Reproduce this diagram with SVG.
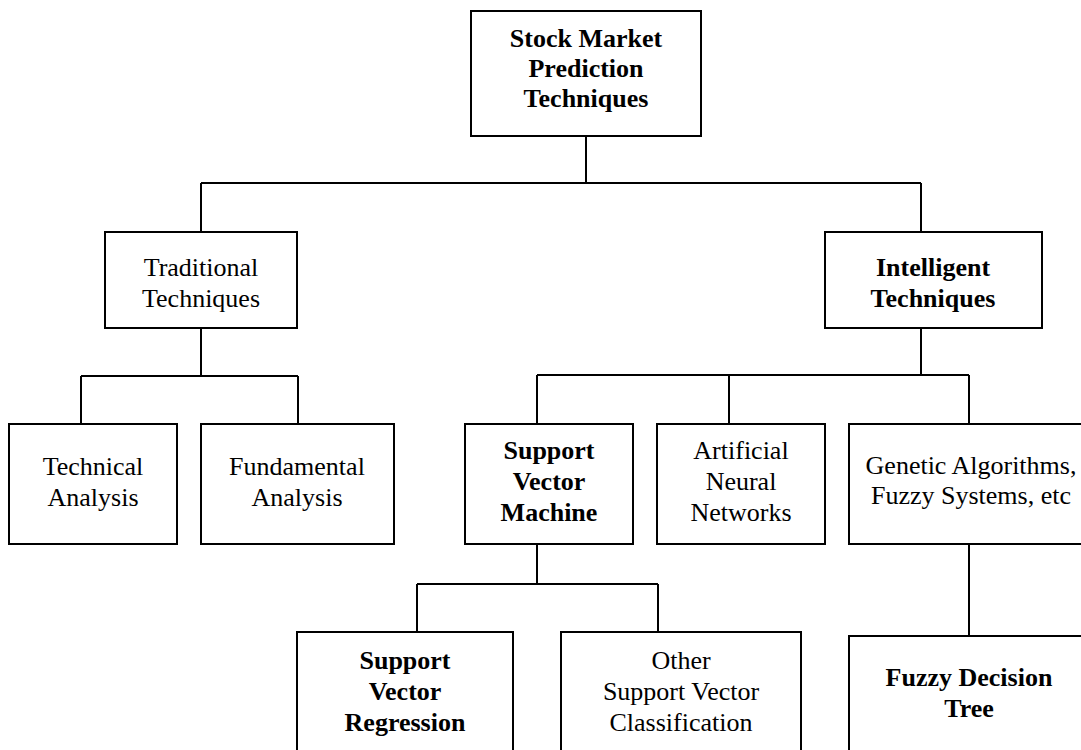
<svg xmlns="http://www.w3.org/2000/svg" width="1081" height="750" viewBox="0 0 1081 750">
  <style>
    .box { fill: #ffffff; stroke: #000000; stroke-width: 2; }
    .lbl { font-family: "Liberation Serif", "Times New Roman", serif; font-size: 26px; fill: #000000; text-anchor: middle; }
    .b { font-weight: bold; }
    .wire { fill: none; stroke: #000000; stroke-width: 2; }
  </style>
  <rect width="1081" height="750" fill="#ffffff"/>

  <!-- tree connectors -->
  <g id="connectors" class="wire">
    <path d="M586 136 V183 M201 183 H921 M201 183 V232 M921 183 V232"/>
    <path d="M201 328 V376 M81 376 H298 M81 376 V424 M298 376 V424"/>
    <path d="M921 328 V375 M537 375 H969 M537 375 V424 M729 375 V424 M969 375 V424"/>
    <path d="M537 544 V584 M417 584 H658 M417 584 V632 M658 584 V632"/>
    <path d="M969 544 V636"/>
  </g>

  <g id="root">
    <rect class="box" x="471" y="11" width="230" height="125"/>
    <text class="lbl b" x="586" y="47">Stock Market</text>
    <text class="lbl b" x="586" y="77">Prediction</text>
    <text class="lbl b" x="586" y="107">Techniques</text>
  </g>

  <g id="traditional">
    <rect class="box" x="105" y="232" width="192" height="96"/>
    <text class="lbl" x="201" y="276">Traditional</text>
    <text class="lbl" x="201" y="307">Techniques</text>
  </g>

  <g id="intelligent">
    <rect class="box" x="825" y="232" width="217" height="96"/>
    <text class="lbl b" x="933" y="276">Intelligent</text>
    <text class="lbl b" x="933" y="307">Techniques</text>
  </g>

  <g id="technical">
    <rect class="box" x="9" y="424" width="168" height="120"/>
    <text class="lbl" x="93" y="475">Technical</text>
    <text class="lbl" x="93" y="506">Analysis</text>
  </g>

  <g id="fundamental">
    <rect class="box" x="201" y="424" width="193" height="120"/>
    <text class="lbl" x="297" y="475">Fundamental</text>
    <text class="lbl" x="297" y="506">Analysis</text>
  </g>

  <g id="svm">
    <rect class="box" x="465" y="424" width="168" height="120"/>
    <text class="lbl b" x="549" y="459">Support</text>
    <text class="lbl b" x="549" y="490">Vector</text>
    <text class="lbl b" x="549" y="521">Machine</text>
  </g>

  <g id="ann">
    <rect class="box" x="657" y="424" width="168" height="120"/>
    <text class="lbl" x="741" y="459">Artificial</text>
    <text class="lbl" x="741" y="490">Neural</text>
    <text class="lbl" x="741" y="521">Networks</text>
  </g>

  <g id="genetic">
    <rect class="box" x="849" y="424" width="245" height="120"/>
    <text class="lbl" x="971" y="474">Genetic Algorithms,</text>
    <text class="lbl" x="971" y="504">Fuzzy Systems, etc</text>
  </g>

  <g id="svr">
    <rect class="box" x="297" y="632" width="216" height="140"/>
    <text class="lbl b" x="405" y="669">Support</text>
    <text class="lbl b" x="405" y="700">Vector</text>
    <text class="lbl b" x="405" y="731">Regression</text>
  </g>

  <g id="svc">
    <rect class="box" x="561" y="632" width="240" height="140"/>
    <text class="lbl" x="681" y="669">Other</text>
    <text class="lbl" x="681" y="700">Support Vector</text>
    <text class="lbl" x="681" y="731">Classification</text>
  </g>

  <g id="fdt">
    <rect class="box" x="849" y="636" width="245" height="140"/>
    <text class="lbl b" x="969" y="686">Fuzzy Decision</text>
    <text class="lbl b" x="969" y="717">Tree</text>
  </g>
</svg>
